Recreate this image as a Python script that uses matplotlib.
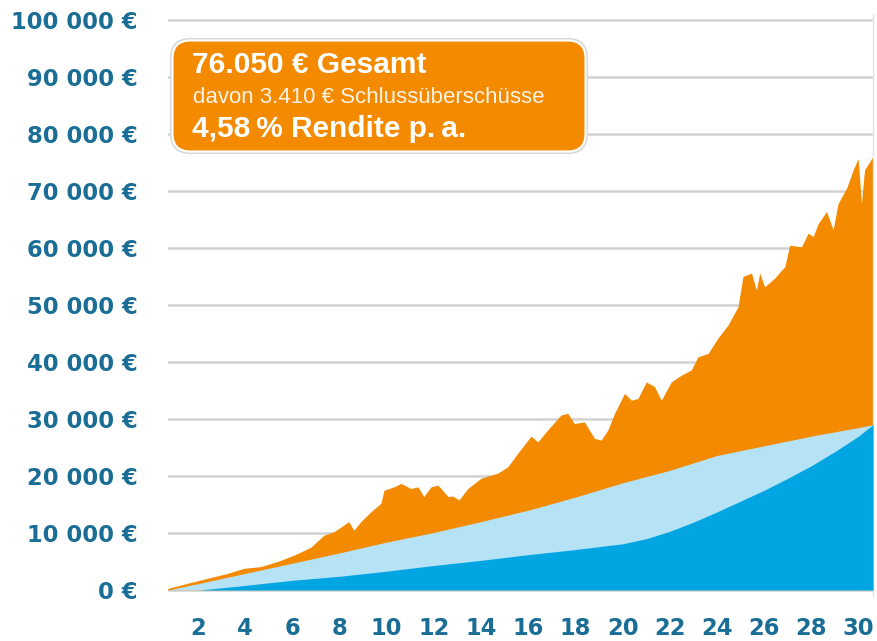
import matplotlib
matplotlib.use("Agg")
import matplotlib.pyplot as plt
from matplotlib.patches import FancyBboxPatch

# total value (top of orange area)
total_years = [0.74, 1.82, 3.25, 3.95, 4.67, 5.38, 6.07, 6.79, 7.34, 7.76,
               8.19, 8.40, 8.61, 8.91, 9.33, 9.76, 9.89, 10.31, 10.61, 11.03,
               11.33, 11.58, 11.88, 12.18, 12.60, 12.80, 13.07, 13.44, 14.00, 14.71,
               15.13, 15.56, 16.12, 16.41, 16.83, 17.39, 17.68, 17.96, 18.38, 18.81,
               19.09, 19.38, 19.66, 20.08, 20.37, 20.65, 21.00, 21.35, 21.64, 22.06,
               22.49, 22.91, 23.19, 23.62, 24.04, 24.47, 24.89, 25.10, 25.46, 25.67,
               25.81, 26.02, 26.44, 26.73, 26.87, 27.08, 27.58, 27.86, 28.07, 28.29,
               28.64, 28.92, 29.13, 29.49, 29.77, 29.98, 30.12, 30.25, 30.55, 30.61]
total_values = [300, 1450, 2900, 3800, 4100, 5000, 6100, 7500, 9600, 10200,
                11400, 12000, 10500, 12000, 13700, 15200, 17500, 18100, 18700, 17800,
                18100, 16400, 18100, 18400, 16400, 16500, 15800, 17800, 19600, 20500,
                21600, 24000, 27000, 26000, 28100, 30700, 31000, 29200, 29500, 26600,
                26300, 28100, 31000, 34500, 33300, 33600, 36500, 35700, 33300, 36500,
                37700, 38600, 40900, 41500, 44200, 46500, 49700, 55000, 55600, 52600,
                55600, 53200, 54700, 56100, 56700, 60500, 60200, 62600, 62000, 64300,
                66400, 63200, 67800, 70500, 73700, 75700, 67800, 73700, 75700, 76000]

# top of light blue area (cumulative)
light_years = [0.74, 2, 4, 6, 8, 10, 12, 14, 16, 18, 20, 22, 24, 26, 28, 30, 30.61]
light_values = [0, 1100, 2900, 4700, 6500, 8400, 10100, 12000, 14000, 16300,
                18800, 21000, 23600, 25300, 27000, 28500, 29000]

# top of dark blue area
dark_years = [0.74, 2.1, 4, 6, 8, 10, 12, 14, 16, 18, 20, 21, 22, 23, 24, 25,
              26, 27, 28, 29, 30, 30.61]
dark_values = [0, 0, 800, 1700, 2400, 3300, 4300, 5200, 6200, 7100, 8100, 9000,
               10300, 11900, 13700, 15600, 17500, 19600, 21800, 24300, 27000, 29000]

x_ticks = list(range(2, 31, 2))
y_ticks = list(range(0, 100001, 10000))
y_labels = ["0 €"] + [f"{v // 1000} 000 €" for v in y_ticks[1:]]

box_lines = ["76.050 € Gesamt",
             "davon 3.410 € Schlussüberschüsse",
             "4,58\u2009% Rendite p.\u2009a."]

ORANGE = "#f38a00"
LIGHT = "#b5e2f5"
DARK = "#00a5e2"
LABEL = "#1a6e96"
GRID = "#d2d2d2"

W, H = 877, 641
fig = plt.figure(figsize=(W / 100, H / 100), dpi=100)
ax = fig.add_axes([168 / W, 0.07067, 705 / W, 0.90702])

ax.fill_between(total_years, 0, total_values, color=ORANGE, lw=0, zorder=2)
ax.fill_between(light_years, 0, light_values, color=LIGHT, lw=0, zorder=3)
ax.fill_between(dark_years, 0, dark_values, color=DARK, lw=0, zorder=4)

ax.set_xlim(0.74, 30.61)
ax.set_ylim(-1000, 101000)
ax.set_xticks(x_ticks)
ax.set_yticks(y_ticks)
ax.set_yticklabels(y_labels)
ax.tick_params(length=0, labelsize=16.3, labelcolor=LABEL)
ax.tick_params(axis="y", pad=22)
ax.tick_params(axis="x", pad=15)
for lab in ax.get_xticklabels() + ax.get_yticklabels():
    lab.set_fontweight("bold")
    lab.set_family("DejaVu Sans")

ax.set_axisbelow(True)
ax.grid(axis="y", color=GRID, lw=1.8)
for s in ["left", "top", "bottom"]:
    ax.spines[s].set_visible(False)
ax.spines["right"].set_color("#e3e3e3")
ax.spines["right"].set_linewidth(1)

# overlay in pixel coordinates for the info box
ov = fig.add_axes([0, 0, 1, 1], zorder=10)
ov.set_xlim(0, W)
ov.set_ylim(H, 0)
ov.axis("off")
ov.patch.set_alpha(0)

ov.add_patch(FancyBboxPatch((171, 39), 416, 114, boxstyle="round,pad=0,rounding_size=19",
                            facecolor="none", edgecolor="#d9d9d9", lw=1.5))
ov.add_patch(FancyBboxPatch((172.5, 40.5), 413, 111, boxstyle="round,pad=0,rounding_size=18",
                            facecolor=ORANGE, edgecolor="white", lw=1.5))

fam = ["Liberation Sans", "DejaVu Sans"]
ov.text(192, 73, box_lines[0], color="white", fontsize=21.5, fontweight="bold",
        family=fam, va="baseline")
ov.text(193, 103, box_lines[1], color="#fff3e6", fontsize=16,
        family=fam, va="baseline")
ov.text(192, 137, box_lines[2], color="white", fontsize=21.5, fontweight="bold",
        family=fam, va="baseline")

fig.savefig("out.png", dpi=100)
